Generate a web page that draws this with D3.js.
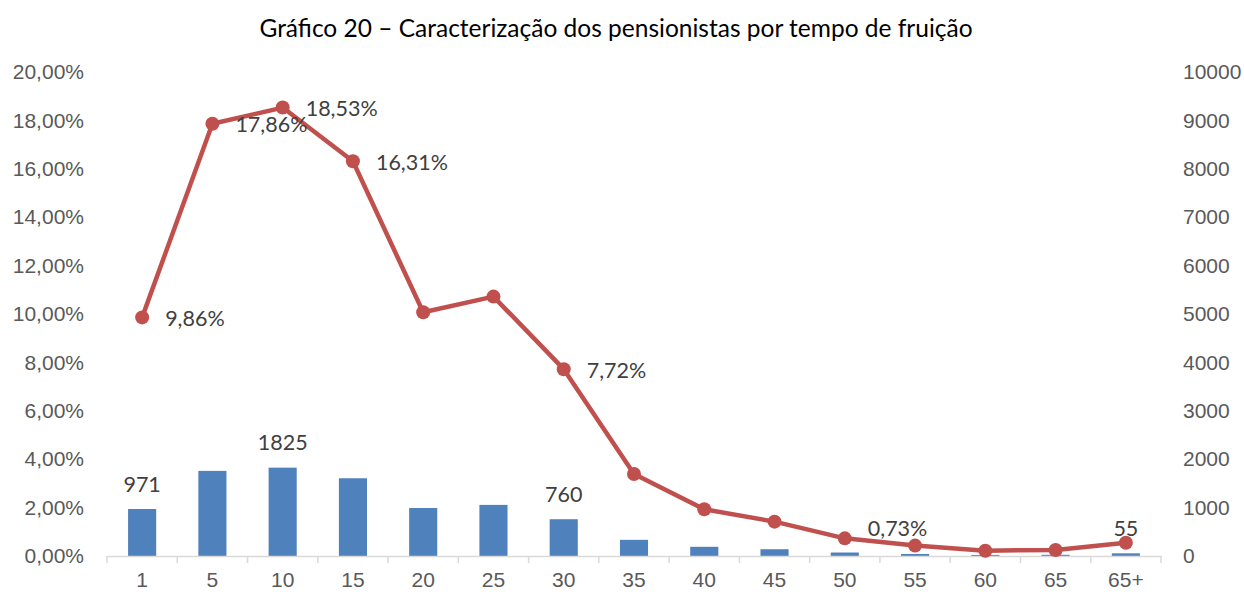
<!DOCTYPE html>
<html>
  <head>
    <title>Gráfico 20</title>
    <script src="https://d3js.org/d3.v7.min.js"></script>
    <style>
      body {
        margin: 0;
        background-color: white;
        font-family: Lato, "Open Sans", sans-serif;
      }
      .axis text {
        fill: #595959;
        font-size: 21px;
      }
      .label {
        fill: #404040;
        font-size: 21.5px;
      }
    </style>
  </head>
  <body>
    <script>
      const categories = ['1', '5', '10', '15', '20', '25', '30', '35', '40', '45', '50', '55', '60', '65', '65+'];
      const pensionistas = [971, 1759, 1825, 1606, 992, 1056, 760, 334, 190, 140, 72, 42, 22, 25, 55];
      const percentagem = [9.86, 17.86, 18.53, 16.31, 10.07, 10.72, 7.72, 3.39, 1.93, 1.42, 0.73, 0.43, 0.22, 0.25, 0.55];
      const leftTicks = [0, 2, 4, 6, 8, 10, 12, 14, 16, 18, 20];
      const rightTicks = [0, 1000, 2000, 3000, 4000, 5000, 6000, 7000, 8000, 9000, 10000];
      const barLabels = ['1', '10', '30', '65+'];
      const lineLabels = ['1', '5', '10', '15', '30', '50'];

      const w = 1244;
      const h = 597;
      const plotLeft = 107;
      const plotRight = 1161;
      const plotTop = 72;
      const plotBottom = 556;

      const fmtPct = d => d.toFixed(2).replace('.', ',') + '%';

      const x = d3.scaleBand()
                  .domain(categories)
                  .range([plotLeft, plotRight]);

      const xBar = d3.scaleBand()
                     .domain(categories)
                     .range([plotLeft, plotRight])
                     .paddingInner(0.6)
                     .paddingOuter(0.3);

      const yLeft = d3.scaleLinear()
                      .domain([0, 20])
                      .range([plotBottom, plotTop]);

      const yRight = d3.scaleLinear()
                       .domain([0, 10000])
                       .range([plotBottom, plotTop]);

      const cx = d => x(d) + x.bandwidth() / 2;

      const svg = d3.select('body')
                    .append('svg')
                    .attr('width', w)
                    .attr('height', h);

      svg.append('text')
         .attr('x', 616)
         .attr('y', 37)
         .attr('text-anchor', 'middle')
         .attr('fill', '#000')
         .style('font-size', '24.5px')
         .text('Gráfico 20 – Caracterização dos pensionistas por tempo de fruição');

      // bars (right axis)
      svg.selectAll('rect.bar')
         .data(categories)
         .enter()
         .append('rect')
         .attr('class', 'bar')
         .attr('x', d => xBar(d))
         .attr('width', xBar.bandwidth())
         .attr('y', (d, i) => yRight(pensionistas[i]))
         .attr('height', (d, i) => plotBottom - yRight(pensionistas[i]))
         .attr('fill', '#4F81BD');

      // x axis: line, boundary ticks, labels
      const xAxis = svg.append('g')
                       .attr('class', 'axis')
                       .attr('transform', `translate(0, ${plotBottom})`)
                       .call(d3.axisBottom(x).tickSize(0).tickPadding(16));
      xAxis.select('.domain').attr('stroke', '#D9D9D9').attr('stroke-width', 1.5);
      xAxis.selectAll('.bound')
           .data(categories.concat(['end']))
           .enter()
           .append('line')
           .attr('class', 'bound')
           .attr('x1', (d, i) => i < categories.length ? x(d) : plotRight)
           .attr('x2', (d, i) => i < categories.length ? x(d) : plotRight)
           .attr('y1', 0)
           .attr('y2', 7)
           .attr('stroke', '#D9D9D9')
           .attr('stroke-width', 1.5);

      const yAxisL = svg.append('g')
                        .attr('class', 'axis')
                        .attr('transform', `translate(${plotLeft}, 0)`)
                        .call(d3.axisLeft(yLeft).tickValues(leftTicks).tickFormat(fmtPct).tickSize(0).tickPadding(23));
      yAxisL.select('.domain').remove();

      const yAxisR = svg.append('g')
                        .attr('class', 'axis')
                        .attr('transform', `translate(${plotRight}, 0)`)
                        .call(d3.axisRight(yRight).tickValues(rightTicks).tickFormat(d3.format('d')).tickSize(0).tickPadding(22));
      yAxisR.select('.domain').remove();

      // line (left axis)
      const line = d3.line()
                     .x(d => cx(d))
                     .y((d, i) => yLeft(percentagem[i]));

      svg.append('path')
         .datum(categories)
         .attr('d', line)
         .attr('fill', 'none')
         .attr('stroke', '#C0504D')
         .attr('stroke-width', 4.5)
         .attr('stroke-linejoin', 'round');

      svg.selectAll('circle')
         .data(categories)
         .enter()
         .append('circle')
         .attr('cx', d => cx(d))
         .attr('cy', (d, i) => yLeft(percentagem[i]))
         .attr('r', 7)
         .attr('fill', '#C0504D');

      // data labels
      svg.selectAll('text.pct')
         .data(lineLabels)
         .enter()
         .append('text')
         .attr('class', 'label pct')
         .attr('x', d => cx(d) + 23)
         .attr('y', d => yLeft(percentagem[categories.indexOf(d)]) + (d === '50' ? -10 : 1))
         .attr('dy', '0.35em')
         .text(d => fmtPct(percentagem[categories.indexOf(d)]));

      svg.selectAll('text.num')
         .data(barLabels)
         .enter()
         .append('text')
         .attr('class', 'label num')
         .attr('x', d => cx(d))
         .attr('y', d => yRight(pensionistas[categories.indexOf(d)]) - 25)
         .attr('dy', '0.35em')
         .attr('text-anchor', 'middle')
         .text(d => pensionistas[categories.indexOf(d)]);
    </script>
  </body>
</html>
